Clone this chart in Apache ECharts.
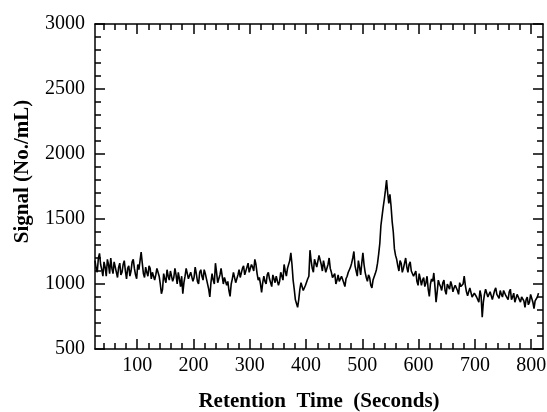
<!DOCTYPE html>
<html>
<head>
<meta charset="utf-8">
<script src="https://cdn.jsdelivr.net/npm/echarts@6/dist/echarts.min.js"></script>
<style>
  html, body { margin: 0; padding: 0; background: #fff; }
  #chart { width: 547px; height: 412px; }
</style>
</head>
<body>
<div id="chart"></div>
<script>
// retention time sampling (seconds)
const timeStart = 25
const timeStep = 2

// signal (No./mL), one row = 40 s
const signal = [
  1180, 1120, 1090, 1200, 1235, 1150, 1110, 1060, 1170, 1130, 1060, 1190, 1150, 1080, 1200, 1120, 1080, 1170, 1130, 1090,
  1050, 1130, 1160, 1070, 1090, 1150, 1180, 1100, 1040, 1120, 1140, 1060, 1100, 1170, 1190, 1120, 1070, 1040, 1150, 1110,
  1120, 1245, 1160, 1080, 1050, 1130, 1090, 1060, 1140, 1120, 1040, 1090, 1100, 1030, 1070, 1120, 1110, 1060, 1000, 925,
  960, 1080, 1040, 1010, 1110, 1060, 1030, 1100, 1090, 1020, 1050, 1120, 1070, 1000, 1090, 1040, 980, 1060, 925, 1010,
  1060, 1120, 1110, 1040, 1030, 1090, 1100, 1020, 1050, 1130, 1080, 1020, 1000, 1090, 1110, 1060, 1030, 1110, 1080, 1040,
  1040, 960, 900, 1010, 1080, 1030, 1000, 1160, 1090, 1010, 1040, 1070, 1120, 1060, 1000, 1050, 1060, 990, 1020, 950,
  905, 1000, 1040, 1090, 1080, 1010, 1020, 1070, 1110, 1050, 1060, 1120, 1140, 1070, 1080, 1130, 1160, 1090, 1100, 1150,
  1130, 1100, 1190, 1150, 1080, 1030, 1050, 1000, 935, 1010, 1060, 1020, 1000, 1070, 1090, 1040, 1030, 980, 1070, 1040,
  1010, 1060, 1060, 990, 1020, 1090, 1080, 1030, 1150, 1100, 1060, 1120, 1120, 1180, 1240, 1150, 1030, 960, 880, 850,
  820, 880, 960, 1010, 1010, 950, 940, 990, 1000, 1040, 1060, 1260, 1180, 1120, 1090, 1190, 1200, 1130, 1140, 1220,
  1230, 1150, 1100, 1180, 1170, 1090, 1080, 1150, 1200, 1120, 1090, 1050, 1040, 1080, 1000, 1030, 1070, 1020, 1010, 1060,
  1050, 1010, 980, 1040, 1060, 1090, 1110, 1130, 1160, 1200, 1250, 1140, 1100, 1060, 1180, 1130, 1070, 1160, 1240, 1150,
  1090, 1050, 1020, 1070, 1050, 990, 970, 1030, 1040, 1080, 1110, 1160, 1230, 1310, 1450, 1520, 1590, 1650, 1720, 1800,
  1700, 1620, 1690, 1600, 1480, 1400, 1270, 1220, 1190, 1140, 1100, 1180, 1160, 1090, 1120, 1160, 1200, 1130, 1090, 1150,
  1170, 1100, 1110, 1060, 1060, 1100, 1020, 990, 1080, 1040, 990, 1030, 1050, 980, 1010, 1060, 960, 905, 1000, 1040,
  1020, 1085, 980, 860, 940, 1030, 1000, 980, 950, 1010, 1030, 950, 920, 1000, 980, 960, 1020, 990, 940, 970,
  990, 1000, 950, 920, 1010, 980, 970, 1000, 1060, 990, 940, 910, 920, 970, 960, 900, 890, 930, 940, 900,
  900, 860, 950, 910, 745, 860, 920, 960, 950, 900, 900, 940, 940, 880, 880, 950, 970, 920, 920, 890,
  950, 920, 900, 950, 960, 910, 910, 880, 940, 960, 880, 900, 930, 860, 870, 920, 920, 880, 860, 900,
  910, 870, 820, 880, 900, 840, 860, 920, 930, 860, 810, 870, 880, 900, 930
]

const xMajorTicks = [100, 200, 300, 400, 500, 600, 700, 800]
const xMinorTicks = []
for (let v = 40; v <= 780; v += 20) {
  if (v % 100 !== 0) xMinorTicks.push(v)
}

const seriesData = signal.map((v, i) => [timeStart + i * timeStep, v])

const labelFont = { fontFamily: 'Liberation Serif', fontSize: 20, color: '#000' }
const titleFont = { fontFamily: 'Liberation Serif', fontSize: 21, fontWeight: 'bold', color: '#000' }
const lineStyle = { color: '#000', width: 1.5 }

const xAxisBase = {
  type: 'value',
  min: 25,
  max: 821,
  splitLine: { show: false },
}

const yAxisBase = {
  type: 'value',
  min: 500,
  max: 3000,
  interval: 500,
  splitLine: { show: false },
  axisLine: { show: true, lineStyle },
  axisTick: { inside: true, length: 10, lineStyle },
  minorTick: { show: true, splitNumber: 5, length: 6, lineStyle },
}

const chart = echarts.init(document.getElementById('chart'))
chart.setOption({
  animation: false,
  backgroundColor: '#fff',
  grid: { left: 95, top: 24, width: 448, height: 325, outerBoundsMode: 'none', containLabel: false },
  xAxis: [
    {
      ...xAxisBase,
      position: 'bottom',
      name: 'Retention  Time  (Seconds)',
      nameLocation: 'middle',
      nameGap: 42,
      nameTextStyle: titleFont,
      axisLine: { show: true, lineStyle },
      axisTick: { inside: true, length: 10, lineStyle, customValues: xMajorTicks },
      axisLabel: { ...labelFont, margin: 7, customValues: xMajorTicks },
    },
    {
      ...xAxisBase,
      position: 'bottom',
      axisLine: { show: false },
      axisTick: { inside: true, length: 6, lineStyle, customValues: xMinorTicks },
      axisLabel: { show: false },
    },
    {
      ...xAxisBase,
      position: 'top',
      axisLine: { show: true, lineStyle },
      axisTick: { inside: true, length: 10, lineStyle, customValues: xMajorTicks },
      axisLabel: { show: false },
    },
    {
      ...xAxisBase,
      position: 'top',
      axisLine: { show: false },
      axisTick: { inside: true, length: 6, lineStyle, customValues: xMinorTicks },
      axisLabel: { show: false },
    },
  ],
  yAxis: [
    {
      ...yAxisBase,
      position: 'left',
      name: 'Signal (No./mL)',
      nameLocation: 'middle',
      nameGap: 62,
      nameTextStyle: { ...titleFont, padding: [0, 0, 0, 30] },
      axisLabel: { ...labelFont, margin: 10, formatter: (v) => String(v) },
    },
    {
      ...yAxisBase,
      position: 'right',
      axisLabel: { show: false },
    },
  ],
  series: [
    {
      type: 'line',
      xAxisIndex: 0,
      yAxisIndex: 0,
      data: seriesData,
      showSymbol: false,
      symbol: 'none',
      lineStyle: { color: '#000', width: 1.6 },
    },
  ],
})
</script>
</body>
</html>
